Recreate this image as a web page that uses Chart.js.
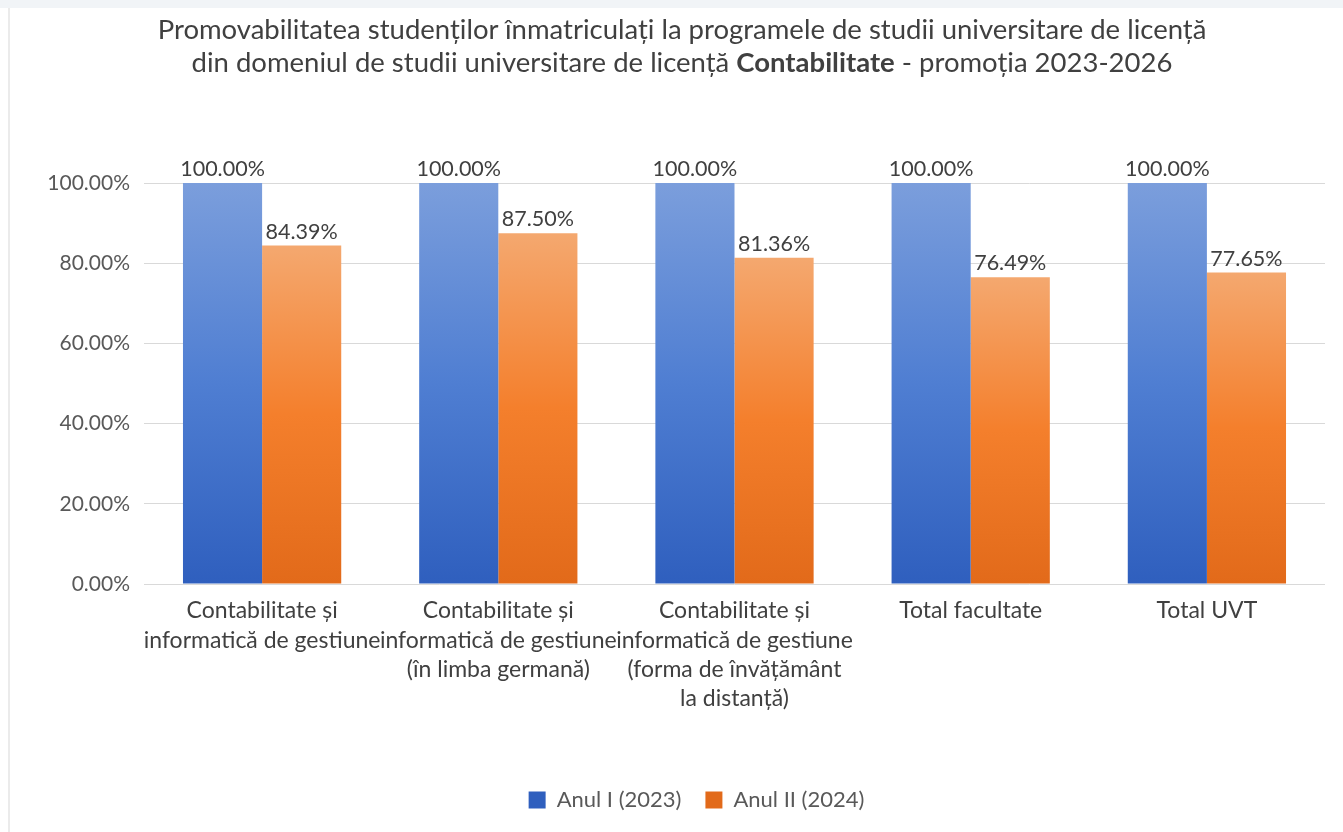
<!DOCTYPE html>
<html>
<head>
<meta charset="utf-8">
<script src="https://cdn.jsdelivr.net/npm/chart.js@4.4.1/dist/chart.umd.min.js"></script>
<style>
  html, body { margin: 0; padding: 0; background: #fff; }
  #wrap { position: relative; width: 1343px; height: 832px; overflow: hidden; }
  #topstrip { position: absolute; left: 0; top: 0; width: 1343px; height: 8px; background: #f1f4f7; }
  #leftline { position: absolute; left: 8px; top: 8px; width: 2px; height: 824px; background: #ebebeb; }
  #title {
    position: absolute; left: 0; top: 12px; width: 1364px; text-align: center;
    font-family: Lato, sans-serif; font-size: 27.5px; line-height: 33px; color: #404040;
  }
  #title b { font-weight: bold; }
  canvas { position: absolute; left: 0; top: 0; }
</style>
</head>
<body>
<div id="wrap">
  <div id="topstrip"></div>
  <div id="leftline"></div>
  <canvas id="myBarChart" width="1343" height="832"></canvas>
  <div id="title">Promovabilitatea studenților înmatriculați la programele de studii universitare de licență<br>
    din domeniul de studii universitare de licență <b>Contabilitate</b> - promoția 2023-2026</div>
</div>
<script>
// categorii (etichete pe axa x, pe mai multe randuri)
const categories = [
  ['Contabilitate și', 'informatică de gestiune'],
  ['Contabilitate și', 'informatică de gestiune', '(în limba germană)'],
  ['Contabilitate și', 'informatică de gestiune', '(forma de învățământ', 'la distanță)'],
  ['Total facultate'],
  ['Total UVT']
];

const seriesNames = ['Anul I (2023)', 'Anul II (2024)'];
const anulI = [100.00, 100.00, 100.00, 100.00, 100.00];
const anulII = [84.39, 87.50, 81.36, 76.49, 77.65];

const yTicks = [0, 20, 40, 60, 80, 100];

const FONT = 'Lato, sans-serif';

// gradient pe fiecare bara (sus mai deschis, jos mai inchis)
function barGradient(colors, solid) {
  return function(ctx) {
    if (ctx.type !== 'data') return solid;
    const chart = ctx.chart;
    if (!chart.chartArea) return solid;
    const y = chart.scales.y;
    const top = y.getPixelForValue(ctx.raw);
    const bottom = y.getPixelForValue(0);
    const g = chart.ctx.createLinearGradient(0, top, 0, bottom);
    g.addColorStop(0, colors[0]);
    g.addColorStop(0.5, colors[1]);
    g.addColorStop(1, colors[2]);
    return g;
  };
}

// etichete cu valori deasupra barelor
const valueLabels = {
  id: 'valueLabels',
  afterDatasetsDraw(chart) {
    const c = chart.ctx;
    c.save();
    c.font = '21.5px ' + FONT;
    c.fillStyle = '#404040';
    c.textAlign = 'center';
    c.textBaseline = 'middle';
    chart.data.datasets.forEach((ds, i) => {
      const meta = chart.getDatasetMeta(i);
      meta.data.forEach((bar, j) => {
        c.fillText(ds.data[j].toFixed(2) + '%', bar.x, bar.y - 14);
      });
    });
    c.restore();
  }
};

// legenda putin mai la dreapta, ca in original
const legendShift = {
  id: 'legendShift',
  afterLayout(chart) {
    chart.legend.left += 30;
    chart.legend.right += 30;
  }
};

const ctx = document.getElementById('myBarChart').getContext('2d');
const myBarChart = new Chart(ctx, {
  type: 'bar',
  data: {
    labels: categories,
    datasets: [{
      label: seriesNames[0],
      data: anulI,
      backgroundColor: barGradient(['#7b9edc', '#4f7ed2', '#2f5fbe'], '#3f6fcc'),
      categoryPercentage: 0.67,
      barPercentage: 1.0
    }, {
      label: seriesNames[1],
      data: anulII,
      backgroundColor: barGradient(['#f4a86f', '#f47f2c', '#e26a1a'], '#f07c2a'),
      categoryPercentage: 0.67,
      barPercentage: 1.0
    }]
  },
  options: {
    responsive: false,
    animation: false,
    layout: { padding: { top: 183, left: 8, right: 18, bottom: 11 } },
    plugins: {
      title: { display: false },
      tooltip: { enabled: false },
      legend: {
        position: 'bottom',
        labels: {
          boxWidth: 17, boxHeight: 17, padding: 24,
          color: '#595959',
          font: { family: FONT, size: 22 }
        }
      }
    },
    scales: {
      x: {
        grid: { display: false },
        border: { display: false },
        ticks: {
          autoSkip: false, maxRotation: 0, minRotation: 0, padding: 4,
          color: '#404040',
          font: { family: FONT, size: 23, lineHeight: 1.28 }
        },
        afterFit(scale) { scale.height = 181; }
      },
      y: {
        min: 0, max: 100,
        afterBuildTicks(scale) { scale.ticks = yTicks.map(v => ({ value: v })); },
        grid: { color: '#d9d9d9', lineWidth: 1, drawTicks: false },
        border: { display: false },
        ticks: {
          padding: 14,
          color: '#595959',
          font: { family: FONT, size: 21 },
          callback: v => v.toFixed(2) + '%'
        },
        afterFit(scale) { scale.width = 136; }
      }
    }
  },
  plugins: [valueLabels, legendShift]
});
</script>
</body>
</html>
